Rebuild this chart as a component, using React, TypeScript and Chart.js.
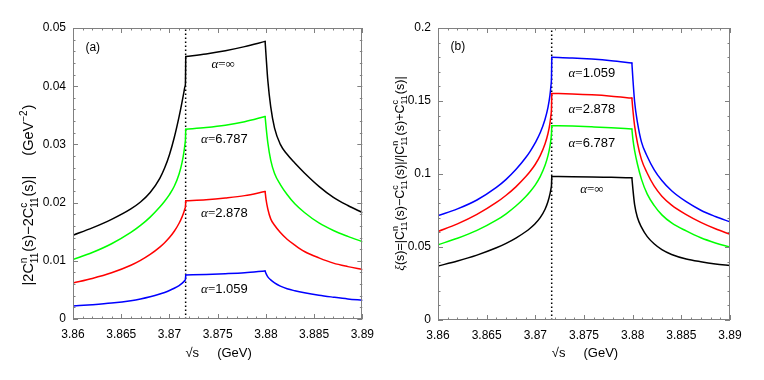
import React, { useEffect, useRef } from 'react';
import { Chart, registerables } from 'chart.js';
Chart.register(...registerables);

const SANS = '"Liberation Sans", Arial, sans-serif';
const SERIF = '"Liberation Serif", "DejaVu Serif", serif';

// sqrt(s) in GeV, shared by both panels
const xs = [3.860, 3.862, 3.864, 3.866, 3.867, 3.868, 3.869, 3.8695, 3.870, 3.8705, 3.871, 3.8713, 3.8715, 3.8716, 3.87166, 3.87169, 3.8738, 3.8758, 3.8778, 3.87992, 3.88002, 3.8802, 3.8805, 3.8809, 3.8815, 3.8822, 3.883, 3.884, 3.8855, 3.887, 3.8885, 3.890];
const thresholdX = 3.87168;
// index of the point just above the neutral threshold, and of the charged-threshold peak
const iTop = 15;
const iPeak = 19;

// panel (a): |2C11^n - 2C11^c| (GeV^-2)
const aInf = [0.01440, 0.01565, 0.01712, 0.01892, 0.02010, 0.02173, 0.02418, 0.02593, 0.02823, 0.03118, 0.03478, 0.03723, 0.03898, 0.03990, 0.04047, 0.0451, 0.04555, 0.0461, 0.0468, 0.0477, 0.0452, 0.0410, 0.0365, 0.0328, 0.0300, 0.0283, 0.0268, 0.0251, 0.0228, 0.0209, 0.0195, 0.0183];
const a6787 = [0.01020, 0.01142, 0.01293, 0.01488, 0.01608, 0.01751, 0.01924, 0.02024, 0.02137, 0.02280, 0.02493, 0.02683, 0.02868, 0.02993, 0.03083, 0.0326, 0.0329, 0.0333, 0.0339, 0.0348, 0.0330, 0.0303, 0.0273, 0.0250, 0.0231, 0.0214, 0.0198, 0.0183, 0.0165, 0.0152, 0.0142, 0.0133];
const a2878 = [0.00620, 0.00697, 0.00794, 0.00924, 0.01008, 0.01110, 0.01236, 0.01311, 0.01399, 0.01507, 0.01645, 0.01750, 0.01839, 0.01894, 0.01933, 0.0203, 0.0205, 0.0208, 0.0212, 0.0219, 0.0205, 0.0189, 0.0172, 0.0161, 0.01485, 0.0137, 0.0127, 0.0116, 0.0105, 0.0096, 0.0090, 0.0085];
const a1059 = [0.00223, 0.002455, 0.00274, 0.00315, 0.00344, 0.003815, 0.004285, 0.004565, 0.00489, 0.005278, 0.005753, 0.006113, 0.006428, 0.006643, 0.006817, 0.00756, 0.00765, 0.00778, 0.00795, 0.00825, 0.00780, 0.00725, 0.00672, 0.00620, 0.00565, 0.00520, 0.00485, 0.00450, 0.00408, 0.00375, 0.00345, 0.00322];

// panel (b): xi(s)
const b1059 = [0.0715, 0.0761, 0.0822, 0.0908, 0.0963, 0.1030, 0.1111, 0.1159, 0.1215, 0.1282, 0.1375, 0.1456, 0.1538, 0.1603, 0.1663, 0.1800, 0.1795, 0.1787, 0.1776, 0.1760, 0.1655, 0.1495, 0.1350, 0.1220, 0.1120, 0.1030, 0.0955, 0.0885, 0.0810, 0.0752, 0.0709, 0.0672];
const b2878 = [0.0606, 0.0658, 0.0723, 0.0805, 0.08545, 0.0912, 0.09805, 0.10205, 0.10668, 0.11256, 0.12069, 0.12774, 0.13474, 0.14009, 0.1449, 0.1552, 0.1548, 0.1542, 0.1533, 0.1520, 0.1440, 0.1330, 0.1210, 0.1100, 0.1005, 0.0918, 0.0848, 0.0787, 0.0722, 0.0669, 0.0625, 0.0587];
const b6787 = [0.0516, 0.05595, 0.06135, 0.06835, 0.07275, 0.07805, 0.08445, 0.0882, 0.09258, 0.09821, 0.10596, 0.11256, 0.11896, 0.12361, 0.12781, 0.1331, 0.1328, 0.1323, 0.1317, 0.1308, 0.1240, 0.1160, 0.1065, 0.0965, 0.0862, 0.0785, 0.0720, 0.0665, 0.0610, 0.0563, 0.0528, 0.0500];
const bInf = [0.0370, 0.0404, 0.04445, 0.04945, 0.0525, 0.0561, 0.06045, 0.06305, 0.06615, 0.0701, 0.07585, 0.0811, 0.0862, 0.0897, 0.0924, 0.0983, 0.0982, 0.0980, 0.0977, 0.0974, 0.0900, 0.0790, 0.0700, 0.0636, 0.0571, 0.0522, 0.0482, 0.0449, 0.0418, 0.0399, 0.0384, 0.0373];

const alphaNames = ['∞', '6.787', '2.878', '1.059'];

type Seg = { t?: string; font?: string; sup?: string; sub?: string };

function drawRich(ctx: CanvasRenderingContext2D, segs: Seg[], cx: number, cy: number, size: number, rotate: boolean) {
  ctx.save();
  const base = `${size}px ${SANS}`;
  const small = `${Math.round(size * 0.72)}px ${SANS}`;
  const widths = segs.map((s) => {
    if (s.t !== undefined) {
      ctx.font = s.font || base;
      return ctx.measureText(s.t).width;
    }
    ctx.font = small;
    return Math.max(s.sup ? ctx.measureText(s.sup).width : 0, s.sub ? ctx.measureText(s.sub).width : 0) + 1;
  });
  const total = widths.reduce((a, b) => a + b, 0);
  ctx.translate(cx, cy);
  if (rotate) ctx.rotate(-Math.PI / 2);
  ctx.textBaseline = 'alphabetic';
  ctx.textAlign = 'left';
  ctx.fillStyle = '#000';
  let x = -total / 2;
  const by = size * 0.36;
  segs.forEach((s, i) => {
    if (s.t !== undefined) {
      ctx.font = s.font || base;
      ctx.fillText(s.t, x, by);
    } else {
      ctx.font = small;
      if (s.sup) ctx.fillText(s.sup, x, by - size * 0.42);
      if (s.sub) ctx.fillText(s.sub, x, by + size * 0.3);
    }
    x += widths[i];
  });
  ctx.restore();
}

function alphaSegs(v: string): Seg[] {
  const segs: Seg[] = [{ t: 'α', font: `italic 13px ${SERIF}` }, { t: '=', font: `13px ${SERIF}` }];
  if (v === '∞') segs.push({ t: '∞', font: `13px ${SERIF}` });
  else segs.push({ t: v, font: `13px ${SANS}` });
  return segs;
}

interface PanelCfg {
  yMax: number; yMajor: number; yMinor: number;
  yAxisW: number; padRight: number; xAxisH: number;
  series: number[][];
  labels: { x: number; y: number; segs: Seg[]; size: number }[];
  yTitle: { segs: Seg[]; cx: number; cy: number; size: number };
}

function makeOverlay(cfg: PanelCfg) {
  return {
    id: 'overlay',
    afterDatasetsDraw(chart: any) {
      const { ctx, chartArea: ca, scales } = chart;
      const xS = scales.x, yS = scales.y;
      ctx.save();
      ctx.strokeStyle = '#808080';
      ctx.lineWidth = 1;
      const xn = Math.round((3.89 - 3.86) / 0.001);
      for (let i = 0; i <= xn; i++) {
        const L = i % 5 === 0 ? 5 : 2.5;
        const px = Math.round(xS.getPixelForValue(3.86 + i * 0.001)) + 0.5;
        ctx.beginPath();
        ctx.moveTo(px, ca.bottom); ctx.lineTo(px, ca.bottom - L);
        ctx.moveTo(px, ca.top); ctx.lineTo(px, ca.top + L);
        ctx.stroke();
      }
      const yn = Math.round(cfg.yMax / cfg.yMinor);
      const ratio = Math.round(cfg.yMajor / cfg.yMinor);
      for (let i = 0; i <= yn; i++) {
        const L = i % ratio === 0 ? 5 : 2.5;
        const py = Math.round(yS.getPixelForValue(i * cfg.yMinor)) + 0.5;
        ctx.beginPath();
        ctx.moveTo(ca.left, py); ctx.lineTo(ca.left + L, py);
        ctx.moveTo(ca.right, py); ctx.lineTo(ca.right - L, py);
        ctx.stroke();
      }
      ctx.strokeRect(Math.round(ca.left) + 0.5, Math.round(ca.top) + 0.5, Math.round(ca.right - ca.left) - 1, Math.round(ca.bottom - ca.top) - 1);
      ctx.restore();
      cfg.labels.forEach((l) => {
        drawRich(ctx, l.segs, xS.getPixelForValue(l.x), yS.getPixelForValue(l.y), l.size, false);
      });
      drawRich(ctx, cfg.yTitle.segs, cfg.yTitle.cx, cfg.yTitle.cy, cfg.yTitle.size, true);
      drawRich(ctx, [{ t: '√s' }, { t: '     (GeV)' }], (ca.left + ca.right) / 2 + 1, 352, 13, false);
    },
  };
}

const fmt = (v: any) => String(Number(Number(v).toFixed(4)));
const colors = ['#000000', '#00ff00', '#ff0000', '#0000ff'];

function buildChart(canvas: HTMLCanvasElement, cfg: PanelCfg) {
  const datasets: any[] = [];
  const ranges: [number, number][] = [[0, iTop], [iTop, iPeak], [iPeak, xs.length - 1]];
  cfg.series.forEach((ys, i) => {
    ranges.forEach(([a, b]) => {
      const pts = [];
      for (let j = a; j <= b; j++) pts.push({ x: xs[j], y: ys[j] });
      datasets.push({
        data: pts,
        borderColor: colors[i],
        borderWidth: 1.5,
        pointRadius: 0,
        fill: false,
        cubicInterpolationMode: 'monotone',
        borderCapStyle: 'round',
        borderJoinStyle: 'round',
      });
    });
  });
  datasets.push({
    data: [{ x: thresholdX, y: 0 }, { x: thresholdX, y: cfg.yMax }],
    borderColor: '#000000',
    borderWidth: 1.5,
    borderDash: [1.5, 2.5],
    pointRadius: 0,
    fill: false,
  });
  return new Chart(canvas, {
    type: 'line',
    data: { datasets },
    plugins: [makeOverlay(cfg)],
    options: {
      animation: false,
      responsive: false,
      devicePixelRatio: 1,
      layout: { padding: { left: 0, right: cfg.padRight, top: 28, bottom: 0 } },
      plugins: { legend: { display: false }, tooltip: { enabled: false } },
      scales: {
        x: {
          type: 'linear', min: 3.86, max: 3.89,
          grid: { display: false, drawTicks: false }, border: { display: false },
          ticks: { stepSize: 0.005, callback: fmt, color: '#000', font: { family: SANS, size: 12 }, padding: 8, maxRotation: 0, autoSkip: false },
          afterFit: (s: any) => { s.height = cfg.xAxisH; },
        },
        y: {
          type: 'linear', min: 0, max: cfg.yMax,
          grid: { display: false, drawTicks: false }, border: { display: false },
          ticks: { stepSize: cfg.yMajor, callback: fmt, color: '#000', font: { family: SANS, size: 12 }, padding: 7 },
          afterFit: (s: any) => { s.width = cfg.yAxisW; },
        },
      },
    } as any,
  });
}

const titleA: Seg[] = [
  { t: '|2C' }, { sup: 'n', sub: '11' }, { t: '(s)−2C' }, { sup: 'c', sub: '11' }, { t: '(s)|' },
  { t: '     (GeV' }, { sup: '−2' }, { t: ')' },
];
const titleB: Seg[] = [
  { t: 'ξ', font: `italic 13px ${SERIF}` }, { t: '(s)=|C' }, { sup: 'n', sub: '11' }, { t: '(s)−C' }, { sup: 'c', sub: '11' },
  { t: '(s)|/|C' }, { sup: 'n', sub: '11' }, { t: '(s)+C' }, { sup: 'c', sub: '11' }, { t: '(s)|' },
];

const cfgA: PanelCfg = {
  yMax: 0.05, yMajor: 0.01, yMinor: 0.002,
  yAxisW: 73, padRight: 17, xAxisH: 61,
  series: [aInf, a6787, a2878, a1059],
  labels: [
    { x: 3.86205, y: 0.0468, segs: [{ t: '(a)' }], size: 12 },
    { x: 3.87557, y: 0.0439, segs: alphaSegs(alphaNames[0]), size: 13 },
    { x: 3.8757, y: 0.0310, segs: alphaSegs(alphaNames[1]), size: 13 },
    { x: 3.8757, y: 0.0183, segs: alphaSegs(alphaNames[2]), size: 13 },
    { x: 3.8757, y: 0.0052, segs: alphaSegs(alphaNames[3]), size: 13 },
  ],
  yTitle: { segs: titleA, cx: 28, cy: 195, size: 14.5 },
};

const cfgB: PanelCfg = {
  yMax: 0.2, yMajor: 0.05, yMinor: 0.01,
  yAxisW: 56, padRight: 34, xAxisH: 60,
  series: [bInf, b6787, b2878, b1059],
  labels: [
    { x: 3.86204, y: 0.1879, segs: [{ t: '(b)' }], size: 12 },
    { x: 3.87581, y: 0.0905, segs: alphaSegs(alphaNames[0]), size: 13 },
    { x: 3.87581, y: 0.1216, segs: alphaSegs(alphaNames[1]), size: 13 },
    { x: 3.87581, y: 0.1447, segs: alphaSegs(alphaNames[2]), size: 13 },
    { x: 3.87581, y: 0.1699, segs: alphaSegs(alphaNames[3]), size: 13 },
  ],
  yTitle: { segs: titleB, cx: 17, cy: 173.5, size: 12.5 },
};

export default function App() {
  const refA = useRef<HTMLCanvasElement>(null);
  const refB = useRef<HTMLCanvasElement>(null);
  useEffect(() => {
    const cA = buildChart(refA.current!, cfgA);
    const cB = buildChart(refB.current!, cfgB);
    return () => { cA.destroy(); cB.destroy(); };
  }, []);
  return (
    <div style={{ position: 'fixed', left: 0, top: 0, width: 764, height: 380, background: '#fff' }}>
      <canvas ref={refA} width={382} height={380} style={{ position: 'absolute', left: 0, top: 0, width: 382, height: 380 }} />
      <canvas ref={refB} width={382} height={380} style={{ position: 'absolute', left: 382, top: 0, width: 382, height: 380 }} />
    </div>
  );
}
